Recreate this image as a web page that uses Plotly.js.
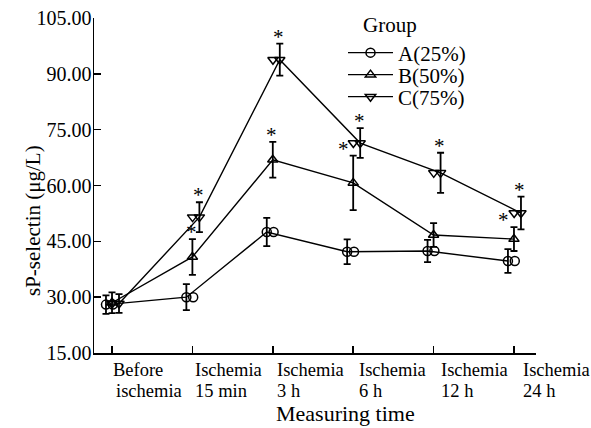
<!DOCTYPE html>
<html><head><meta charset="utf-8">
<script src="https://cdn.plot.ly/plotly-3.0.1.min.js"></script>
<style>html,body{margin:0;padding:0;background:#fff;}#chart{width:591px;height:428px;}</style>
</head><body><div id="chart"></div>
<script>
const categories = ['Before ischemia', 'Ischemia 15 min', 'Ischemia 3 h', 'Ischemia 6 h', 'Ischemia 12 h', 'Ischemia 24 h'];
const tickLine1 = ['Before', 'Ischemia', 'Ischemia', 'Ischemia', 'Ischemia', 'Ischemia'];
const tickLine2 = ['ischemia', '15 min', '3 h', '6 h', '12 h', '24 h'];
const seriesNames = ['A(25%)', 'B(50%)', 'C(75%)'];
const groupA = [28.0, 30.0, 47.5, 42.2, 42.4, 39.7];
const errA   = [2.5, 3.5, 3.8, 3.3, 3.0, 3.2];
const groupB = [28.5, 40.8, 66.9, 60.7, 46.7, 45.6];
const errB   = [2.8, 4.8, 4.8, 7.3, 3.2, 3.2];
const groupC = [28.3, 51.5, 93.8, 71.4, 63.4, 52.6];
const errC   = [2.5, 4.0, 4.3, 4.0, 5.4, 4.4];
const sigB = ['', 'top', 'top', 'left', '', 'left'];
const sigC = ['', 'top', 'top', 'top', 'top', 'top'];
const yTicks = [15, 30, 45, 60, 75, 90, 105];

const FONT = 'Liberation Serif, Times New Roman, serif';
const idx = categories.map((c, i) => i);
const off = {A: -0.075, B: 0, C: 0.087};

function mainTrace(name, vals, errs, dx, sym, leg) {
  return {
    type: 'scatter', mode: 'lines+markers', name: name, legend: leg,
    x: idx.map(i => i + dx), y: vals,
    line: {color: '#000', width: 1.4},
    marker: {symbol: sym, size: 9, color: '#000', line: {color: '#000', width: 1.5}},
    error_y: {type: 'data', array: errs, visible: true, color: '#000', thickness: 1.8, width: 3.5}
  };
}
function ghost(vals, dx, sym) {
  return {
    type: 'scatter', mode: 'markers', showlegend: false, hoverinfo: 'skip',
    x: idx.map(i => i + dx), y: vals,
    marker: {symbol: sym, size: 9, color: '#000', line: {color: '#000', width: 1.5}}
  };
}

const traces = [
  mainTrace(seriesNames[0], groupA, errA, off.A, 'circle-open', 'legend'),
  mainTrace(seriesNames[1], groupB, errB, off.B, 'triangle-up-open', 'legend2'),
  mainTrace(seriesNames[2], groupC, errC, off.C, 'triangle-down-open', 'legend3'),
  ghost(groupA, off.A + 0.085, 'circle-open'),
  ghost(groupC, off.C - 0.085, 'triangle-down-open')
];

const annotations = [];
function addStars(vals, errs, sig, dx) {
  sig.forEach((s, i) => {
    if (!s) return;
    annotations.push({x: i + dx, y: vals[i] + errs[i], xref: 'x', yref: 'y', text: '*', showarrow: false,
      xanchor: 'center', yanchor: 'middle', xshift: s === 'left' ? -10 : -1, yshift: 7,
      font: {family: FONT, size: 21, color: '#000'}});
  });
}
addStars(groupB, errB, sigB, off.B);
addStars(groupC, errC, sigC, off.C);

idx.forEach(i => {
  const xs = -1 + 1.6 * i;
  annotations.push({x: i, y: 0, xref: 'x', yref: 'paper', text: tickLine1[i], showarrow: false,
    xanchor: 'left', yanchor: 'top', xshift: xs, yshift: -5, font: {family: FONT, size: 18.5, color: '#000'}});
  annotations.push({x: i, y: 0, xref: 'x', yref: 'paper', text: tickLine2[i], showarrow: false,
    xanchor: 'left', yanchor: 'top', xshift: xs + (i === 0 ? 3 : 0), yshift: -26, font: {family: FONT, size: 18.5, color: '#000'}});
});
annotations.push({x: (345 - 94) / 442, y: (353 - 413) / 335, xref: 'paper', yref: 'paper', text: 'Measuring time',
  showarrow: false, xanchor: 'center', yanchor: 'middle', font: {family: FONT, size: 22, color: '#000'}});
annotations.push({x: (33 - 94) / 442, y: (353 - 220) / 335, xref: 'paper', yref: 'paper', text: 'sP-selectin (μg/L)',
  showarrow: false, textangle: -90, xanchor: 'center', yanchor: 'middle', font: {family: FONT, size: 21, color: '#000'}});
annotations.push({x: (361 - 94) / 442, y: (353 - 25) / 335, xref: 'paper', yref: 'paper', text: 'Group',
  showarrow: false, xanchor: 'left', yanchor: 'middle', font: {family: FONT, size: 21, color: '#000'}});

function legendAt(rowY) {
  return {x: (343 - 94) / 442, y: (353 - rowY) / 335, xanchor: 'left', yanchor: 'middle',
    bgcolor: 'rgba(0,0,0,0)', font: {family: FONT, size: 21, color: '#000'}, itemwidth: 45};
}

const layout = {
  width: 591, height: 428,
  margin: {l: 94, r: 55, t: 18, b: 75},
  paper_bgcolor: '#fff', plot_bgcolor: '#fff',
  font: {family: FONT, color: '#000'},
  showlegend: true,
  legend: legendAt(53), legend2: legendAt(75), legend3: legendAt(97),
  xaxis: {range: [-0.224, 5.274], tickmode: 'array', tickvals: idx, ticktext: categories, showticklabels: false,
    ticks: 'inside', ticklen: 7, tickwidth: 1.5, tickcolor: '#000', showline: true, linecolor: '#000', linewidth: 1.5,
    showgrid: false, zeroline: false, fixedrange: true},
  yaxis: {range: [15, 105], tickmode: 'array', tickvals: yTicks, ticktext: yTicks.map(v => v.toFixed(2)),
    ticks: 'inside', ticklen: 7, tickwidth: 1.5, tickcolor: '#000', showline: true, linecolor: '#000', linewidth: 1.5,
    showgrid: false, zeroline: false, tickfont: {family: FONT, size: 20, color: '#000'}, ticklabelstandoff: -3, fixedrange: true},
  annotations: annotations
};
Plotly.newPlot('chart', traces, layout, {displayModeBar: false, staticPlot: true});
</script></body></html>
